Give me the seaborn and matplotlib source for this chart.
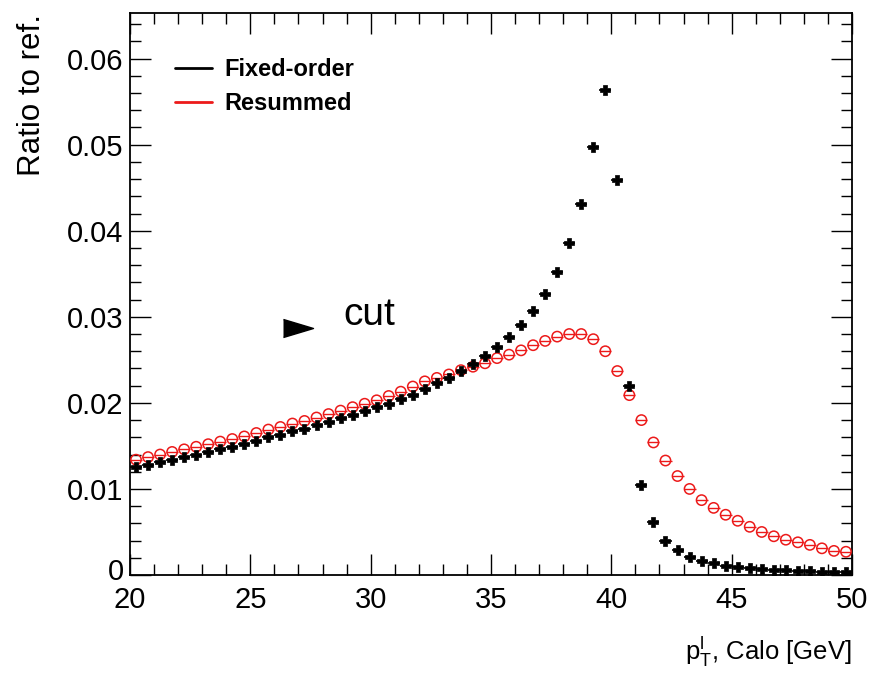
import matplotlib
matplotlib.use("Agg")
import matplotlib.pyplot as plt
import seaborn as sns
import pandas as pd
from matplotlib.lines import Line2D
from matplotlib.ticker import MultipleLocator, FuncFormatter

# ---- data ----
pt_bins = [20.25, 20.75, 21.25, 21.75, 22.25, 22.75, 23.25, 23.75, 24.25, 24.75,
           25.25, 25.75, 26.25, 26.75, 27.25, 27.75, 28.25, 28.75, 29.25, 29.75,
           30.25, 30.75, 31.25, 31.75, 32.25, 32.75, 33.25, 33.75, 34.25, 34.75,
           35.25, 35.75, 36.25, 36.75, 37.25, 37.75, 38.25, 38.75, 39.25, 39.75,
           40.25, 40.75, 41.25, 41.75, 42.25, 42.75, 43.25, 43.75, 44.25, 44.75,
           45.25, 45.75, 46.25, 46.75, 47.25, 47.75, 48.25, 48.75, 49.25, 49.75]

fixed_order = [0.0125, 0.0128, 0.0131, 0.0134, 0.0137, 0.0140, 0.0143, 0.0146, 0.0149, 0.0152,
               0.0156, 0.0160, 0.0163, 0.0167, 0.0170, 0.0174, 0.0178, 0.0182, 0.0186, 0.0190,
               0.0195, 0.0199, 0.0204, 0.0209, 0.0216, 0.0223, 0.0229, 0.0237, 0.0245, 0.0254,
               0.0265, 0.0277, 0.0290, 0.0307, 0.0326, 0.0352, 0.0386, 0.0431, 0.0497, 0.0563,
               0.0459, 0.0220, 0.0105, 0.0062, 0.0040, 0.0029, 0.0021, 0.0016, 0.0014, 0.0011,
               0.0009, 0.0008, 0.0007, 0.0006, 0.0006, 0.0005, 0.0005, 0.0004, 0.0004, 0.0004]

resummed = [0.0134, 0.0137, 0.0140, 0.0143, 0.0146, 0.0149, 0.0152, 0.0155, 0.0158, 0.0161,
            0.0165, 0.0169, 0.0172, 0.0176, 0.0179, 0.0183, 0.0187, 0.0191, 0.0195, 0.0199,
            0.0203, 0.0208, 0.0213, 0.0219, 0.0225, 0.0229, 0.0233, 0.0238, 0.0242, 0.0246,
            0.0252, 0.0256, 0.0261, 0.0267, 0.0272, 0.0277, 0.0280, 0.0280, 0.0274, 0.0260,
            0.0237, 0.0209, 0.0180, 0.0154, 0.0133, 0.0115, 0.0100, 0.0087, 0.0078, 0.0070,
            0.0063, 0.0056, 0.0050, 0.0045, 0.0041, 0.0038, 0.0035, 0.0031, 0.0028, 0.0027]

series_names = ["Fixed-order", "Resummed"]
half_bin = 0.25
cut_pos = (27.0, 0.0287)
cut_text_pos = (28.85, 0.0302)

RED = "#ec1a1a"

# ---- style ----
sns.set_theme(style="ticks")
plt.rcParams["font.family"] = ["Liberation Sans", "DejaVu Sans"]
plt.rcParams["text.color"] = "black"
plt.rcParams["axes.labelcolor"] = "black"
plt.rcParams["mathtext.fontset"] = "custom"
plt.rcParams["mathtext.rm"] = "Liberation Sans"
plt.rcParams["mathtext.it"] = "Liberation Sans:italic"
plt.rcParams["mathtext.default"] = "regular"

fig = plt.figure(figsize=(8.69, 6.74), dpi=100)
ax = fig.add_axes([130 / 869, 1 - 575 / 674, (852 - 130) / 869, (575 - 13) / 674])

df_fo = pd.DataFrame({"pt": pt_bins, "ratio": fixed_order})
df_rs = pd.DataFrame({"pt": pt_bins, "ratio": resummed})

# horizontal bin-width bars
ax.errorbar(df_rs["pt"], df_rs["ratio"], xerr=half_bin, fmt="none", ecolor=RED,
            elinewidth=1.0, capsize=0, zorder=2)
ax.errorbar(df_fo["pt"], df_fo["ratio"], xerr=half_bin, fmt="none", ecolor="black",
            elinewidth=1.2, capsize=0, zorder=3)

sns.scatterplot(data=df_rs, x="pt", y="ratio", ax=ax, marker="o", s=55,
                facecolor="none", edgecolor=RED, linewidth=1.1, zorder=4)
sns.scatterplot(data=df_fo, x="pt", y="ratio", ax=ax, marker="P", s=55,
                color="black", edgecolor="black", linewidth=0.5, zorder=5)

ax.set_xlim(20, 50)
ax.set_ylim(0, 0.0653)

ax.xaxis.set_major_locator(MultipleLocator(5))
ax.xaxis.set_minor_locator(MultipleLocator(1))
ax.yaxis.set_major_locator(MultipleLocator(0.01))
ax.yaxis.set_minor_locator(MultipleLocator(0.002))
# zero label is drawn separately (slightly raised, as in the reference)
ax.yaxis.set_major_formatter(FuncFormatter(
    lambda v, p: "" if abs(v) < 1e-9 else f"{v:.2f}"))

ax.tick_params(which="both", direction="in", top=True, right=True, colors="black",
               labelsize=21, width=1.0)
ax.tick_params(which="major", length=15, pad=5)
ax.tick_params(which="minor", length=8)
ax.tick_params(axis="x", which="major", pad=8)
for s in ax.spines.values():
    s.set_linewidth(1.3)
    s.set_color("black")

ax.annotate("0", xy=(0, 0), xycoords="axes fraction", xytext=(-6, 3),
            textcoords="offset pixels", ha="right", va="center", fontsize=21,
            color="black")

ax.set_xlabel("")
ax.set_ylabel("")
fig.text(852 / 869, 1 - 652 / 674, r"$p_{T}^{l}$, Calo [GeV]", ha="right", va="center",
         fontsize=18.5, color="black")
fig.text(32 / 869, 1 - 14 / 674, "Ratio to ref.", rotation=90, ha="center", va="top",
         fontsize=22.5, color="black")

# cut annotation
ax.plot([cut_pos[0]], [cut_pos[1]], marker=[(-1, -0.6), (1, 0), (-1, 0.6)],
        markersize=21.6, color="black", linestyle="none")
ax.text(cut_text_pos[0], cut_text_pos[1], "cut", fontsize=28, ha="left", va="center",
        color="black")

handles = [Line2D([0], [0], color="black", lw=2),
           Line2D([0], [0], color=RED, lw=2)]
leg = ax.legend(handles, series_names, loc="upper left", bbox_to_anchor=(0.033, 0.957),
                frameon=False, prop={"weight": "bold", "size": 17},
                handlelength=1.55, handletextpad=0.55, labelspacing=0.45)
for t in leg.get_texts():
    t.set_color("black")

fig.savefig("out.png", dpi=100)
